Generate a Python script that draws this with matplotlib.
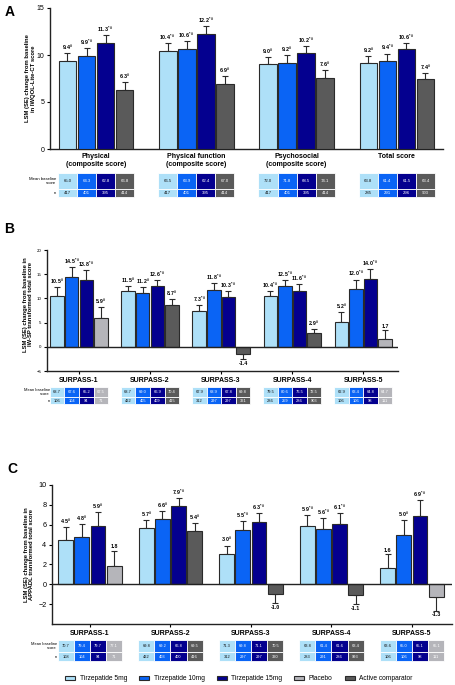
import numpy as np
import matplotlib
matplotlib.use("Agg")
import matplotlib.pyplot as plt
from matplotlib.patches import Patch, Rectangle
from matplotlib.transforms import blended_transform_factory

plt.rcParams['font.family'] = ['Liberation Sans', 'DejaVu Sans']
plt.rcParams['mathtext.fontset'] = 'custom'
plt.rcParams['mathtext.rm'] = 'Liberation Sans'
plt.rcParams['mathtext.bf'] = 'Liberation Sans:bold'
plt.rcParams['mathtext.default'] = 'bf'

W, H = 455, 685

# colours
C5 = '#aee0f8'
C10 = '#0a64f5'
C15 = '#04008f'
PBO = '#b5b5ba'
ACT = '#5a5a5a'
EDGE = '#2a2a2a'

legend_labels = ['Tirzepatide 5mg', 'Tirzepatide 10mg', 'Tirzepatide 15mg', 'Placebo', 'Active comparator']
legend_colors = [C5, C10, C15, PBO, ACT]

# ---- panel A : IWQOL-Lite-CT
a_groups = ['Physical\n(composite score)', 'Physical function\n(composite score)',
            'Psychosocial\n(composite score)', 'Total score']
a_vals = [[9.4, 9.9, 11.3, 6.3], [10.4, 10.6, 12.2, 6.9], [9.0, 9.2, 10.2, 7.6], [9.2, 9.4, 10.6, 7.4]]
a_err = [[0.8, 0.8, 0.8, 0.8], [0.9, 0.9, 0.85, 0.9], [0.75, 0.8, 0.75, 0.8], [0.7, 0.75, 0.7, 0.7]]
a_sig = [['#', '*#', '*#', '#'], ['*#', '*#', '*#', '#'], ['#', '#', '*#', '#'], ['#', '*#', '*#', '#']]
a_ctrl = ['act', 'act', 'act', 'act']
a_base = [[65.0, 64.3, 62.8, 66.8], [66.5, 63.9, 62.4, 67.0], [72.0, 71.8, 68.5, 74.1], [63.8, 61.4, 61.5, 63.4]]
a_n = [[417, 401, 395, 414], [417, 401, 395, 414], [417, 401, 395, 414], [285, 291, 296, 903]]

# ---- panel B : IW-SP
b_groups = ['SURPASS-1', 'SURPASS-2', 'SURPASS-3', 'SURPASS-4', 'SURPASS-5']
b_vals = [[10.5, 14.5, 13.8, 5.9], [11.5, 11.2, 12.6, 8.7], [7.3, 11.8, 10.3, -1.4],
          [10.4, 12.5, 11.6, 2.9], [5.2, 12.0, 14.0, 1.7]]
b_err = [[1.9, 1.9, 2.1, 2.3], [1.0, 1.2, 1.2, 1.2], [1.3, 1.3, 1.2, 1.2],
         [1.2, 1.2, 1.3, 0.7], [1.9, 1.9, 2.0, 1.8]]
b_sig = [['#', '*#', '*#', '#'], ['#', '#', '*#', '#'], ['*#', '*#', '*#', ''],
         ['*#', '*#', '*#', '#'], ['#', '*#', '*#', '']]
b_ctrl = ['pbo', 'act', 'act', 'act', 'pbo']
b_base = [[68.7, 67.6, 65.2, 67.5], [68.7, 69.0, 66.9, 70.4], [67.9, 68.9, 67.8, 69.8],
          [79.5, 80.6, 76.5, 72.5], [62.9, 63.4, 64.8, 64.7]]
b_n = [[106, 104, 94, 71], [422, 405, 409, 415], [312, 297, 297, 321],
       [286, 259, 286, 903], [106, 106, 98, 111]]

# ---- panel C : APPADL
c_groups = ['SURPASS-1', 'SURPASS-2', 'SURPASS-3', 'SURPASS-4', 'SURPASS-5']
c_vals = [[4.5, 4.8, 5.9, 1.8], [5.7, 6.6, 7.9, 5.4], [3.0, 5.5, 6.3, -1.0],
          [5.9, 5.6, 6.1, -1.1], [1.6, 5.0, 6.9, -1.3]]
c_err = [[1.3, 1.3, 1.4, 1.6], [0.8, 0.8, 0.8, 0.75], [0.9, 0.9, 0.9, 0.9],
         [1.1, 1.1, 1.1, 0.9], [1.4, 1.5, 1.6, 1.4]]
c_sig = [['#', '#', '#', ''], ['#', '#', '*#', '#'], ['#', '*#', '*#', ''],
         ['*#', '*#', '*#', ''], ['', '#', '*#', '']]
c_ctrl = ['pbo', 'act', 'act', 'act', 'pbo']
c_base = [[70.7, 79.4, 79.7, 77.1], [69.8, 69.2, 66.8, 69.5], [71.3, 69.8, 71.1, 70.5],
          [63.8, 61.4, 61.6, 63.4], [63.6, 65.0, 65.1, 65.1]]
c_n = [[108, 104, 94, 71], [422, 403, 400, 416], [312, 297, 297, 320],
       [283, 291, 286, 993], [106, 106, 98, 111]]


def sup(s):
    if s == '#':
        return r'$^{\#}$'
    if s == '*#':
        return r'$^{*\,\#}$'
    return ''


def fy(py):
    return 1 - py / H


fig = plt.figure(figsize=(W / 100, H / 100), dpi=100)


def panel(box, groups, vals, errs, sigs, ctrl, base, ns, ylim, yticks, step, width,
          val_fs, tick_fs, grp_fs, tbl_rows, tbl_fs, lab_x, ylabel, ylab_fs, grp_ticks=True):
    left, top, right, bottom = box
    ax = fig.add_axes([left / W, fy(bottom), (right - left) / W, (bottom - top) / H])
    ng = len(groups)
    cx = np.arange(ng)
    tr = blended_transform_factory(ax.transData, fig.transFigure)
    r0, r1, r2 = tbl_rows
    for i in range(ng):
        cols = [C5, C10, C15, PBO if ctrl[i] == 'pbo' else ACT]
        for j in range(4):
            x = cx[i] + (j - 1.5) * step
            v, e = vals[i][j], errs[i][j]
            ax.bar(x, v, width=width, color=cols[j], edgecolor=EDGE, linewidth=0.8, zorder=3)
            lab = f'{v:.1f}' + sup(sigs[i][j])
            if v >= 0:
                ax.errorbar(x, v, yerr=[[0], [e]], fmt='none', ecolor=EDGE, elinewidth=0.8,
                            capsize=2.2, capthick=0.8, zorder=2)
                ax.annotate(lab, (x, v + e), xytext=(0, 0.8),
                            textcoords='offset points', ha='center', va='bottom',
                            fontsize=val_fs, fontweight='bold')
            else:
                ax.errorbar(x, v, yerr=[[e], [0]], fmt='none', ecolor=EDGE, elinewidth=0.8,
                            capsize=2.2, capthick=0.8, zorder=2)
                ax.annotate(lab, (x, v - e), xytext=(0, -1),
                            textcoords='offset points', ha='center', va='top',
                            fontsize=val_fs, fontweight='bold')
            # table cells under the group
            for (ya, yb, txt) in [(r0, r1, f'{base[i][j]:.1f}'), (r1, r2, f'{ns[i][j]}')]:
                ax.add_patch(Rectangle((x - step / 2, fy(yb)), step, fy(ya) - fy(yb), transform=tr,
                                       facecolor=cols[j], edgecolor='white', linewidth=0.6, clip_on=False))
                ax.text(x, (fy(ya) + fy(yb)) / 2, txt, transform=tr, ha='center', va='center',
                        fontsize=tbl_fs, color='#111111' if j == 0 else 'white')
    ax.set_ylim(*ylim)
    ax.set_yticks(yticks)
    ax.tick_params(axis='y', labelsize=tick_fs, length=2.5, width=0.8, pad=1.5)
    for s in ['top', 'right']:
        ax.spines[s].set_visible(False)
    for s in ['left', 'bottom']:
        ax.spines[s].set_linewidth(1.0)
        ax.spines[s].set_color('#222222')
    if ylim[0] < 0:
        ax.axhline(0, color='#222222', lw=1.0, zorder=4)
    ax.set_xticks(cx)
    ax.set_xticklabels(groups, fontsize=grp_fs, fontweight='bold', linespacing=1.1)
    if grp_ticks:
        ax.tick_params(axis='x', length=2.5, width=0.8, pad=1.5)
    else:
        ax.tick_params(axis='x', length=0, pad=3)
    ax.set_ylabel(ylabel, fontsize=ylab_fs, fontweight='bold', linespacing=1.1)
    ax.text(lab_x / W, (fy(r0) + fy(r1)) / 2, 'Mean baseline\nscore', transform=fig.transFigure,
            ha='right', va='center', fontsize=tbl_fs, linespacing=1.0)
    ax.text(lab_x / W, (fy(r1) + fy(r2)) / 2, 'n', transform=fig.transFigure,
            ha='right', va='center', fontsize=tbl_fs)
    return ax


# panel A: axis from x=50 to 443 px, group centres 96..397 px
axA = panel((50, 8, 443, 149), a_groups, a_vals, a_err, a_sig, a_ctrl, a_base, a_n,
            (0, 15), [0, 5, 10, 15], 0.19, 0.175, 3.9, 5, 5, (173, 189, 197), 3.1, 56,
            'LSM (SE) change from baseline\nin IWQOL-Lite-CT score', 4.2, grp_ticks=False)
axA.set_xlim(-0.459, 3.46)
axA.yaxis.set_label_coords(-0.036, 0.5)

axB = panel((47, 250, 398, 371), b_groups, b_vals, b_err, b_sig, b_ctrl, b_base, b_n,
            (-5, 20), [-5, 0, 5, 10, 15, 20], 0.205, 0.19, 3.8, 3.2, 5, (387, 397, 404), 2.9, 50,
            'LSM (SE) change from baseline in\nIW-SP transformed total score', 4.2)
axB.set_xlim(-0.45, 4.49)
axB.yaxis.set_label_coords(-0.04, 0.55)

axC = panel((52, 485, 452, 624), c_groups, c_vals, c_err, c_sig, c_ctrl, c_base, c_n,
            (-4, 10), [-2, 0, 2, 4, 6, 8, 10], 0.2, 0.185, 3.9, 5.2, 5, (640, 652, 661), 2.9, 57,
            'LSM (SE) change from baseline in\nAPPADL transformed total score', 4.2)
axC.set_xlim(-0.472, 4.497)
axC.yaxis.set_label_coords(-0.045, 0.5)

fig.text(5 / W, fy(12), 'A', fontsize=10, fontweight='bold', va='center', ha='left')
fig.text(4 / W, fy(229), 'B', fontsize=10, fontweight='bold', va='center', ha='left')
fig.text(7 / W, fy(469), 'C', fontsize=10, fontweight='bold', va='center', ha='left')

handles = [Patch(facecolor=c, edgecolor=EDGE, linewidth=0.8) for c in legend_colors]
fig.legend(handles, legend_labels, loc='center', bbox_to_anchor=(0.525, fy(679)), ncol=5,
           frameon=False, fontsize=4.8, handlelength=1.5, handleheight=0.6, handletextpad=0.7,
           columnspacing=1.8)

fig.savefig('out.png', dpi=100)
